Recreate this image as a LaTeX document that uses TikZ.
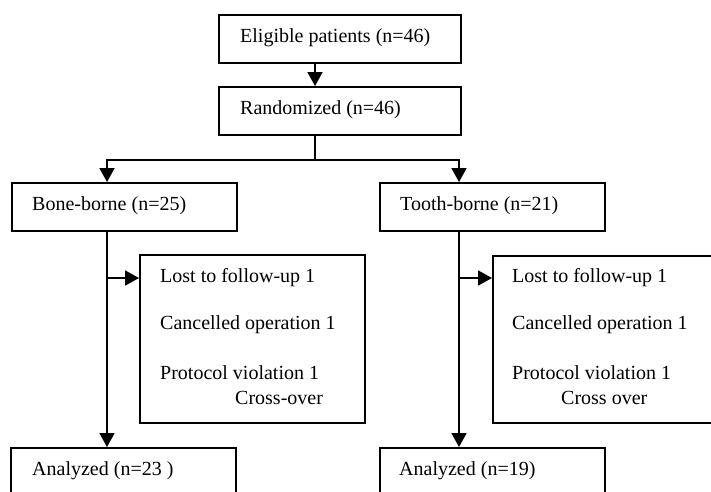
\documentclass[tikz,border=0pt]{standalone}
\usepackage{fontspec}
\setmainfont{Liberation Serif}
\usetikzlibrary{arrows.meta,calc}
\begin{document}
\begin{tikzpicture}[x=1pt,y=-1pt,
  box/.style={draw, line width=1.8pt, anchor=north west, inner sep=0pt},
  txt/.style={anchor=west, inner sep=0pt, font=\fontsize{20}{24}\selectfont},
  line/.style={line width=1.8pt},
  arr/.style={line width=1.8pt, -{Triangle[length=14pt,width=15pt]}}]
\useasboundingbox (0,0) rectangle (711,491);
\clip (0,0) rectangle (711,491);
% boxes
\node[box, minimum width=242pt, minimum height=48pt] (elig) at (218,14) {};
\node[box, minimum width=242pt, minimum height=48pt] (rand) at (218,86) {};
\node[box, minimum width=225pt, minimum height=48pt] (bone) at (11,182) {};
\node[box, minimum width=225pt, minimum height=48pt] (tooth) at (379,182) {};
\node[box, minimum width=225pt, minimum height=168pt] (side1) at (139,254) {};
\node[box, minimum width=240pt, minimum height=167pt] (side2) at (492,255) {};
\node[box, minimum width=225pt, minimum height=70pt] (an1) at (10,447) {};
\node[box, minimum width=225pt, minimum height=70pt] (an2) at (379,447) {};
% texts
\node[txt] (t1) at (240,38) {Eligible patients (n=46)};
\node[txt] (t2) at (240,110) {Randomized (n=46)};
\node[txt] (t3) at (32,206) {Bone-borne (n=25)};
\node[txt] (t4) at (400,206) {Tooth-borne (n=21)};
\node[txt] (s1a) at (160,278) {Lost to follow-up 1};
\node[txt] (s1b) at (160,325) {Cancelled operation 1};
\node[txt] (s1c) at (160,373) {Protocol violation 1};
\node[txt] (s1d) at (235,398) {Cross-over};
\node[txt] (s2a) at (512,278) {Lost to follow-up 1};
\node[txt] (s2b) at (512,325) {Cancelled operation 1};
\node[txt] (s2c) at (512,373) {Protocol violation 1};
\node[txt] (s2d) at (561,398) {Cross over};
\node[txt] (t5) at (32,471) {Analyzed (n=23 )};
\node[txt] (t6) at (399,471) {Analyzed (n=19)};
% connectors
\coordinate (e1) at ($(elig.south west)+(97,0)$);
\coordinate (r0) at ($(rand.north west)+(97,0)$);
\draw[arr] (e1) -- (r0);
\coordinate (r1) at ($(rand.south west)+(97,0)$);
\coordinate (split) at ($(r1)+(0,24)$);
\coordinate (bt) at ($(bone.north west)+(96,0)$);
\coordinate (tt) at ($(tooth.north west)+(80,0)$);
\draw[line] (r1) -- (split);
\draw[arr] (split) -| (bt);
\draw[arr] (split) -| (tt);
\coordinate (bv) at ($(bone.south west)+(96,0)$);
\coordinate (tv) at ($(tooth.south west)+(80,0)$);
\draw[arr] (bv) -- (bv |- an1.north);
\draw[arr] (tv) -- (tv |- an2.north);
\coordinate (sa1) at ($(side1.north west)+(0,24)$);
\coordinate (sa2) at ($(side2.north west)+(0,23)$);
\draw[arr] (bv |- sa1) -- (sa1);
\draw[arr] (tv |- sa2) -- (sa2);
\end{tikzpicture}
\end{document}
